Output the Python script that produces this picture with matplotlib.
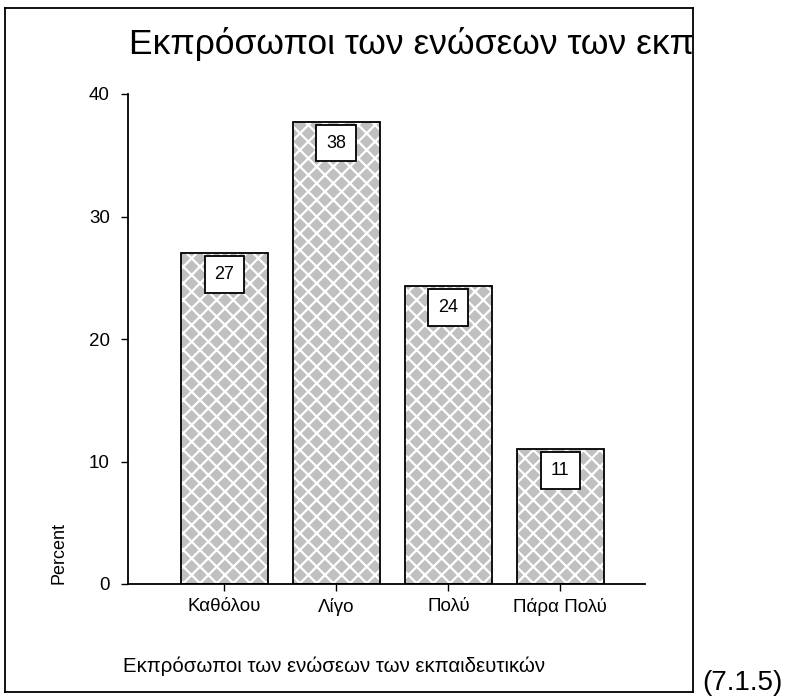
import numpy as np
import matplotlib.pyplot as plt

plt.rcParams['font.family'] = ['Liberation Sans', 'DejaVu Sans']
plt.rcParams['hatch.linewidth'] = 1.6
plt.rcParams['hatch.color'] = 'white'

title = "Εκπρόσωποι των ενώσεων των εκπαιδευτικών"
categories = ["Καθόλου", "Λίγο", "Πολύ", "Πάρα Πολύ"]
percent = [27.0, 37.7, 24.3, 11.0]
yticks = [0, 10, 20, 30, 40]
fig_note = "(7.1.5)"

W, H = 790, 700
fig = plt.figure(figsize=(W / 100, H / 100), dpi=100)

# outer frame; the long title is cut at its right edge as in the original
frame = fig.add_axes([5 / W, 8 / H, (693 - 5) / W, (692 - 8) / H])
frame.set_xticks([])
frame.set_yticks([])
for s in frame.spines.values():
    s.set_linewidth(1.3)
frame.text(129 / W, 1 - 54 / H, title, transform=fig.transFigure,
           fontsize=25.5, va='baseline', ha='left', clip_on=True)

ax = fig.add_axes([128 / W, 1 - 584 / H, (645 - 128) / W, (584 - 94) / H])
ax.patch.set_alpha(0)
x = np.arange(len(categories))
ax.bar(x, percent, width=0.775, color='#c0c0c0', edgecolor='white',
       hatch='xx', linewidth=0, zorder=2)
ax.bar(x, percent, width=0.775, fill=False, edgecolor='black',
       linewidth=1.3, zorder=3)

for xi, v in zip(x, percent):
    ax.annotate(f"{round(v)}", (xi, v), xytext=(0, -15),
                textcoords='offset points', ha='center', va='center',
                fontsize=13, zorder=4,
                bbox=dict(boxstyle='square,pad=0.55', fc='white',
                          ec='black', lw=1.3))

ax.set_xlim(-0.862, 3.757)
ax.set_ylim(0, 40)
ax.set_yticks(yticks)
ax.set_xticks(x)
ax.set_xticklabels(categories)
ax.tick_params(axis='both', labelsize=13.5, length=5, width=1, direction='out')
ax.tick_params(axis='y', pad=8)
ax.tick_params(axis='x', pad=5)
for side in ['top', 'right']:
    ax.spines[side].set_visible(False)
for side in ['left', 'bottom']:
    ax.spines[side].set_linewidth(1.3)

fig.text(59 / W, 1 - 584 / H, "Percent", rotation=90, fontsize=13,
         ha='center', va='bottom')
fig.text(123 / W, 1 - 672 / H, title, fontsize=14.7, ha='left',
         va='baseline')
fig.text(702 / W, 1 - 690 / H, fig_note, fontsize=20, ha='left',
         va='baseline')

fig.savefig("out.png", dpi=100)
